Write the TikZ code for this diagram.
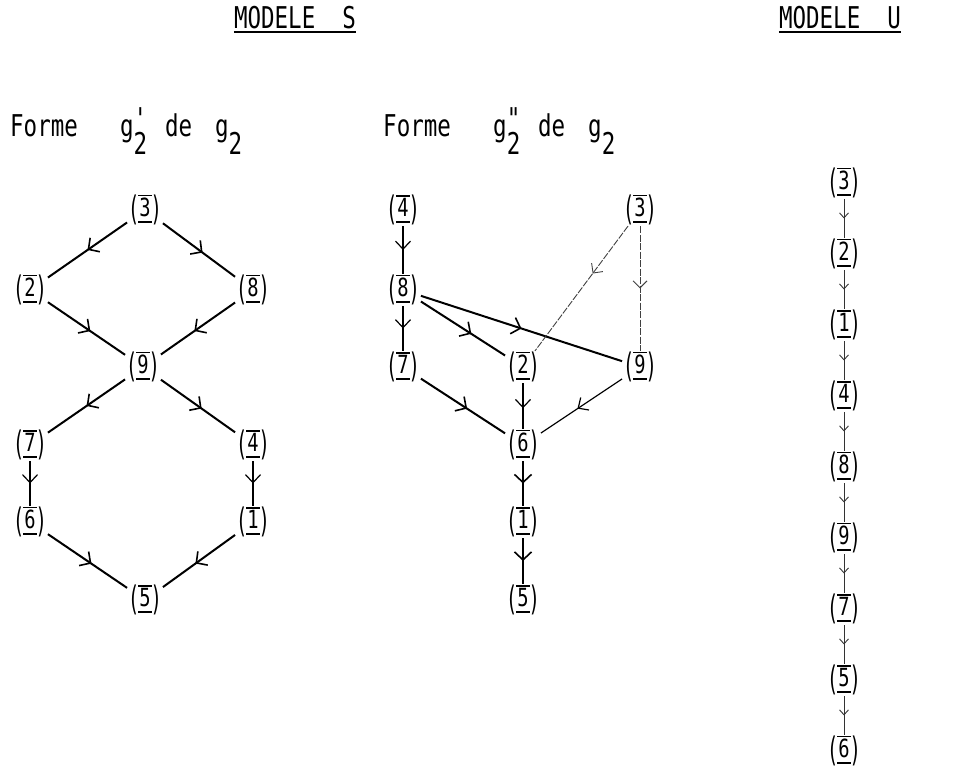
\documentclass[tikz,border=0pt]{standalone}
\usepackage{fontspec}
\usepackage{graphicx}
\usetikzlibrary{arrows.meta,decorations.markings}
\newfontfamily\twfont[FakeStretch=0.75]{DejaVu Sans Mono}

% tall typewriter parenthesis
\newcommand\tallparen[1]{\raisebox{-0.17em}{\scalebox{1}[1.35]{#1}}}
% vertex label: digit with a bar above and below, between parentheses
\newcommand\vx[1]{\setbox0\hbox{#1}%
  \tallparen{(}%
  \rlap{\kern-1pt\raisebox{\dimexpr\ht0+1.6pt\relax}{\rule{\dimexpr\wd0+2pt\relax}{1.3pt}}}%
  \rlap{\kern-1pt\raisebox{-6.5pt}{\rule{\dimexpr\wd0+2pt\relax}{1.8pt}}}%
  \box0\tallparen{)}}
% g with a prime mark stacked over the index 2
\newcommand\gprimed[1]{g\raisebox{-0.62em}{\shortstack[l]{#1\\2}}}
% g with the index 2 only
\newcommand\gplain{g\raisebox{-0.62em}{2}}

\begin{document}
\begin{tikzpicture}[x=1pt,y=-1pt,
  vtx/.style={font=\fontsize{25}{25}\selectfont\twfont, inner sep=0pt, outer sep=1pt},
  lbl/.style={font=\fontsize{30}{30}\selectfont\twfont, inner sep=0pt},
  arc/.style={line width=2pt, postaction={decorate},
    decoration={markings, mark=at position #1 with
      {\arrow[line width=1.6pt]{Straight Barb[length=8pt,width=17pt]}}}},
  arc/.default=0.5,
  lightarc/.style={line width=1.2pt, postaction={decorate},
    decoration={markings, mark=at position #1 with
      {\arrow[line width=1.2pt]{Straight Barb[length=8pt,width=15pt]}}}},
  lightarc/.default=0.5,
  faintarc/.style={line width=0.9pt, black!75, dash pattern=on 7pt off 1.5pt,
    postaction={decorate},
    decoration={markings, mark=at position #1 with
      {\arrow[line width=0.9pt,solid]{Straight Barb[length=7pt,width=14pt]}}}},
  faintarc/.default=0.5,
  chainarc/.style={line width=0.9pt, black!80, postaction={decorate},
    decoration={markings, mark=at position 0.5 with
      {\arrow[line width=0.9pt]{Straight Barb[length=5pt,width=9pt]}}}},
]
\useasboundingbox (0,0) rectangle (966,771);

% ---- titles ----
\node[lbl, anchor=base] (tS) at (295,28) {MODELE~~S};
\draw[line width=1.5pt] ([yshift=-4pt]tS.base west) -- ([yshift=-4pt]tS.base east);
\node[lbl, anchor=base] (tU) at (840,28) {MODELE~~U};
\draw[line width=1.5pt] ([yshift=-4pt]tU.base west) -- ([yshift=-4pt]tU.base east);

\node[lbl, anchor=base west] (fa) at (10,136)
  {\makebox[110pt][l]{Forme}\makebox[45pt][l]{\gprimed{\symbol{"27}}}\makebox[50pt][l]{de}\gplain};
\node[lbl, anchor=base west] (fb) at (383,136)
  {\makebox[110pt][l]{Forme}\makebox[45pt][l]{\gprimed{\symbol{"22}}}\makebox[50pt][l]{de}\gplain};

% ---- form g'_2 ----
\node[vtx] (a3) at (145,210) {\vx{3}};
\node[vtx] (a2) at (30,290)  {\vx{2}};
\node[vtx] (a8) at (253,290) {\vx{8}};
\node[vtx] (a9) at (143,367) {\vx{9}};
\node[vtx] (a7) at (30,445)  {\vx{7}};
\node[vtx] (a4) at (253,445) {\vx{4}};
\node[vtx] (a6) at (30,522)  {\vx{6}};
\node[vtx] (a1) at (253,522) {\vx{1}};
\node[vtx] (a5) at (145,600) {\vx{5}};

\draw[arc] (a3) -- (a2);
\draw[arc=0.55] (a3) -- (a8);
\draw[arc=0.55] (a2) -- (a9);
\draw[arc=0.55] (a8) -- (a9);
\draw[arc] (a9) -- (a7);
\draw[arc=0.55] (a9) -- (a4);
\draw[lightarc] (a7) -- (a6);
\draw[lightarc] (a4) -- (a1);
\draw[arc=0.55] (a6) -- (a5);
\draw[arc=0.55] (a1) -- (a5);

% ---- form g''_2 ----
\node[vtx] (b4) at (403,210) {\vx{4}};
\node[vtx] (b3) at (640,210) {\vx{3}};
\node[vtx] (b8) at (403,290) {\vx{8}};
\node[vtx] (b7) at (403,367) {\vx{7}};
\node[vtx] (b2) at (523,367) {\vx{2}};
\node[vtx] (b9) at (640,367) {\vx{9}};
\node[vtx] (b6) at (523,445) {\vx{6}};
\node[vtx] (b1) at (523,522) {\vx{1}};
\node[vtx] (b5) at (523,600) {\vx{5}};

\draw[lightarc] (b4) -- (b8);
\draw[lightarc] (b8) -- (b7);
\draw[arc=0.6] (b8) -- (b2);
\draw[arc] (b8) -- (b9);
\draw[faintarc=0.38] (b3) -- (b2);
\draw[faintarc] (b3) -- (b9);
\draw[arc=0.55] (b7) -- (b6);
\draw[lightarc=0.55] (b2) -- (b6);
\draw[lightarc=0.55] (b9) -- (b6);
\draw[arc] (b6) -- (b1);
\draw[arc] (b1) -- (b5);

% ---- model U ----
\node[vtx] (c3) at (844,183) {\vx{3}};
\node[vtx] (c2) at (844,254) {\vx{2}};
\node[vtx] (c1) at (844,325) {\vx{1}};
\node[vtx] (c4) at (844,396) {\vx{4}};
\node[vtx] (c8) at (844,467) {\vx{8}};
\node[vtx] (c9) at (844,538) {\vx{9}};
\node[vtx] (c7) at (844,609) {\vx{7}};
\node[vtx] (c5) at (844,680) {\vx{5}};
\node[vtx] (c6) at (844,751) {\vx{6}};

\foreach \u/\v in {c3/c2,c2/c1,c1/c4,c4/c8,c8/c9,c9/c7,c7/c5,c5/c6}
  \draw[chainarc] (\u) -- (\v);
\end{tikzpicture}
\end{document}
